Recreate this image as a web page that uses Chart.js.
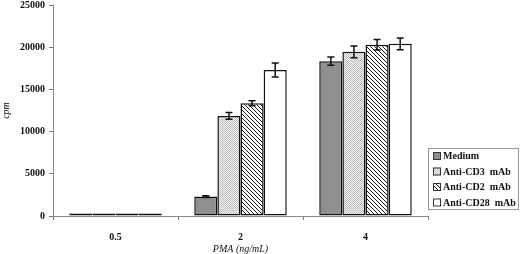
<!DOCTYPE html>
<html>
<head>
<meta charset="utf-8">
<script src="https://cdn.jsdelivr.net/npm/chart.js@4.4.1/dist/chart.umd.min.js"></script>
<style>
  html, body { margin: 0; padding: 0; background: #fff; }
  #wrap { width: 520px; height: 254px; }
</style>
</head>
<body>
<div id="wrap"><canvas id="barChart" width="520" height="254"></canvas></div>
<script>
const categories = ['0.5', '2', '4'];
const seriesLabels = ['Medium', 'Anti-CD3  mAb', 'Anti-CD2  mAb', 'Anti-CD28  mAb'];

const medium = [300, 2300, 18350];
const antiCD3 = [300, 11850, 19450];
const antiCD2 = [300, 13350, 20300];
const antiCD28 = [300, 17300, 20400];

const mediumErr = [0, 100, 500];
const antiCD3Err = [0, 400, 700];
const antiCD2Err = [0, 300, 620];
const antiCD28Err = [0, 820, 700];

const yTicks = [0, 5000, 10000, 15000, 20000, 25000];

// fill patterns
function makePattern(kind) {
  const c = document.createElement('canvas');
  const x = c.getContext('2d');
  if (kind === 'dots') {
    c.width = 2; c.height = 2;
    x.fillStyle = '#f4f4f4';
    x.fillRect(0, 0, 2, 2);
    x.fillStyle = '#bdbdbd';
    x.fillRect(0, 0, 1, 1);
    x.fillRect(1, 1, 1, 1);
  } else if (kind === 'hatch') {
    c.width = 4; c.height = 4;
    x.fillStyle = '#fff';
    x.fillRect(0, 0, 4, 4);
    x.fillStyle = '#1a1a1a';
    for (let i = 0; i < 4; i++) x.fillRect(i, i, 1, 1);
  }
  return document.createElement('canvas').getContext('2d').createPattern(c, 'repeat');
}

const FILLS = {
  medium: '#8f8f8f',
  cd3: makePattern('dots'),
  cd2: makePattern('hatch'),
  cd28: '#ffffff'
};

const errs = [mediumErr, antiCD3Err, antiCD2Err, antiCD28Err];

const data = {
  labels: categories,
  datasets: [
    { label: seriesLabels[0], data: medium, backgroundColor: FILLS.medium },
    { label: seriesLabels[1], data: antiCD3, backgroundColor: FILLS.cd3 },
    { label: seriesLabels[2], data: antiCD2, backgroundColor: FILLS.cd2 },
    { label: seriesLabels[3], data: antiCD28, backgroundColor: FILLS.cd28 }
  ].map(d => Object.assign(d, {
    borderColor: '#111',
    borderWidth: 1.5,
    borderSkipped: false,
    categoryPercentage: 0.74,
    barPercentage: 1.0
  }))
};

const errorBars = {
  id: 'errorBars',
  afterDatasetsDraw(chart) {
    const ctx = chart.ctx;
    const y = chart.scales.y;
    ctx.save();
    ctx.strokeStyle = '#111';
    ctx.lineWidth = 1.5;
    chart.data.datasets.forEach((ds, i) => {
      const meta = chart.getDatasetMeta(i);
      meta.data.forEach((bar, j) => {
        const e = errs[i][j];
        if (!e) return;
        const top = y.getPixelForValue(ds.data[j] + e);
        const bot = y.getPixelForValue(ds.data[j] - e);
        ctx.beginPath();
        ctx.moveTo(bar.x, top); ctx.lineTo(bar.x, bot);
        ctx.moveTo(bar.x - 3.5, top); ctx.lineTo(bar.x + 3.5, top);
        ctx.moveTo(bar.x - 3.5, bot); ctx.lineTo(bar.x + 3.5, bot);
        ctx.stroke();
      });
    });
    ctx.restore();
  }
};

const boxLegend = {
  id: 'boxLegend',
  afterDraw(chart) {
    const ctx = chart.ctx;
    const left = chart.chartArea.right, top = 148, w = 90, h = 61;
    ctx.save();
    ctx.strokeStyle = '#999';
    ctx.lineWidth = 1;
    ctx.strokeRect(left + 0.5, top + 0.5, w, h);
    ctx.font = 'bold 10px "Liberation Serif"';
    ctx.textBaseline = 'middle';
    ctx.fillStyle = '#111';
    chart.data.datasets.forEach((ds, i) => {
      const cy = top + 8 + i * 15.5;
      ctx.fillStyle = ds.backgroundColor;
      ctx.fillRect(left + 5, cy - 4, 8, 8);
      ctx.strokeStyle = '#333';
      ctx.strokeRect(left + 5.5, cy - 3.5, 7, 7);
      ctx.fillStyle = '#111';
      ctx.fillText(ds.label, left + 15, cy + 0.5);
    });
    ctx.restore();
  }
};

const config = {
  type: 'bar',
  data: data,
  plugins: [errorBars, boxLegend],
  options: {
    responsive: false,
    animation: false,
    layout: { autoPadding: false, padding: { top: 5, right: 92, left: 0, bottom: 0 } },
    plugins: {
      legend: { display: false },
      tooltip: { enabled: false }
    },
    scales: {
      x: {
        afterFit(s) { s.height = 38; s.paddingLeft = 0; s.paddingRight = 0; },
        border: { color: '#8a8a8a', width: 1 },
        grid: { display: true, drawOnChartArea: false, offset: true, tickLength: 4, color: '#777' },
        ticks: { color: '#111', font: { family: 'Liberation Serif', size: 10, weight: 'bold' }, padding: 11 },
        title: {
          display: true,
          text: 'PMA (ng/mL)',
          color: '#111',
          font: { family: 'Liberation Serif', size: 10, style: 'italic' },
          padding: { top: 2, bottom: -1 }
        }
      },
      y: {
        min: 0,
        max: 25000,
        afterFit(s) { s.width = 53; s.paddingTop = 0; s.paddingBottom = 0; },
        afterBuildTicks(s) { s.ticks = yTicks.map(v => ({ value: v })); },
        border: { color: '#8a8a8a', width: 1 },
        grid: { display: true, drawOnChartArea: false, tickLength: 4, color: '#777' },
        ticks: {
          color: '#111',
          font: { family: 'Liberation Serif', size: 10, weight: 'bold' },
          padding: 4,
          callback: v => String(v)
        },
        title: {
          display: true,
          text: 'cpm',
          color: '#111',
          font: { family: 'Liberation Serif', size: 10, style: 'italic' },
          padding: { top: 0, bottom: 0 }
        }
      }
    }
  }
};

const myChart = new Chart(document.getElementById('barChart'), config);
</script>
</body>
</html>
